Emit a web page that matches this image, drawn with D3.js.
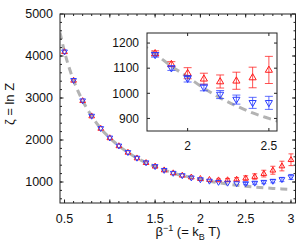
<!DOCTYPE html>
<html><head><meta charset="utf-8">
<script src="https://cdn.jsdelivr.net/npm/d3@7"></script>
<style>
html,body{margin:0;padding:0;background:#fff;}
svg{display:block;font-family:"Liberation Sans",Arial,sans-serif;}
</style></head>
<body>
<svg id="chart" width="302" height="245"></svg>
<script>
// ---- data ----
const temps = [0.5,0.6,0.7,0.8,0.9,1.0,1.1,1.2,1.3,1.4,1.5,1.6,1.7,1.8,1.9,2.0,2.1,2.2,2.3,2.4,2.5,2.6,2.7,2.8,2.9,3.0];
const zetaRed  = [4100,3420,2935,2570,2275,2050,1860,1705,1570,1460,1375,1285,1215,1159,1116,1080,1058,1047,1050,1063,1093,1130,1200,1280,1380,1530];
const errRed   = [5,5,5,5,5,5,5,5,5,5,5,6,7,10,10,22,22,26,34,41,54,65,80,95,115,140];
const zetaBlue = [4100,3420,2935,2570,2275,2050,1860,1705,1570,1460,1370,1280,1210,1153,1100,1058,1023,995,975,962,962,975,995,1020,1060,1120];
const errBlue  = [5,5,5,5,5,5,5,5,5,5,5,6,7,9,9,13,13,16,18,22,26,30,35,40,50,60];
const fitT     = [0.45,0.5,0.6,0.7,0.8,0.9,1.0,1.1,1.2,1.3,1.4,1.5,1.6,1.7,1.75,1.8,1.9,2.0,2.1,2.2,2.3,2.4,2.5,2.6,2.7,2.8,2.9,3.0];
const fitZeta  = [4560,4100,3420,2935,2570,2275,2050,1860,1705,1570,1460,1365,1285,1215,1180,1157,1108,1065,1020,982,950,922,900,880,862,848,835,825];
const mainXTicks = [0.5,1,1.5,2,2.5,3];
const mainXTickLabels = ["0.5","1","1.5","2","2.5","3"];
const mainYTicks = [1000,2000,3000,4000,5000];
const mainYTickLabels = ["1000","2000","3000","4000","5000"];
const insetXTicks = [2,2.5];
const insetXTickLabels = ["2","2.5"];
const insetYTicks = [900,1000,1100,1200];
const insetYTickLabels = ["900","1000","1100","1200"];

const svg = d3.select("#chart");
const RED = "#ff1a1a", BLUE = "#2a3cff", AX = "#222";

function drawPanel(g, x, y, opt){
  const [x0,x1] = x.range(), [y0,y1] = y.range(); // y0 bottom
  const clipId = opt.id + "clip";
  g.append("clipPath").attr("id", clipId).append("rect")
    .attr("x", x0).attr("y", y1).attr("width", x1-x0).attr("height", y0-y1);
  const pg = g.append("g").attr("clip-path", `url(#${clipId})`);
  const line = d3.line().x((d,i)=>x(fitT[i])).y(d=>y(d)).curve(d3.curveMonotoneX);
  pg.append("path").attr("d", line(fitZeta)).attr("fill","none")
    .attr("stroke","#b3b3b3").attr("stroke-width",3).attr("stroke-dasharray", opt.dash);
  const idx = temps.map((t,i)=>i).filter(i=>temps[i]>=opt.tmin-1e-9 && temps[i]<=opt.tmax+1e-9);
  const series = [
    {vals: zetaRed, err: errRed, color: RED, rot: 0},
    {vals: zetaBlue, err: errBlue, color: BLUE, rot: 180}
  ];
  series.forEach(s=>{
    const sg = pg.append("g");
    idx.forEach(i=>{
      const cx = x(temps[i]);
      const yt = y(s.vals[i]+s.err[i]), yb = y(s.vals[i]-s.err[i]);
      if (yb - yt > 2) {
        sg.append("line").attr("x1",cx).attr("x2",cx).attr("y1",yt).attr("y2",yb)
          .attr("stroke",s.color).attr("stroke-opacity",0.75).attr("stroke-width",1);
        [yt,yb].forEach(yy=>sg.append("line").attr("x1",cx-opt.cap).attr("x2",cx+opt.cap)
          .attr("y1",yy).attr("y2",yy).attr("stroke",s.color).attr("stroke-opacity",0.75).attr("stroke-width",1));
      }
      sg.append("path").attr("d", d3.symbol(d3.symbolTriangle, opt.msize)())
        .attr("transform",`translate(${cx},${y(s.vals[i]) + (s.rot? -opt.msize*0.012 : opt.msize*0.012)}) rotate(${s.rot})`)
        .attr("fill","none").attr("stroke",s.color).attr("stroke-width",1);
    });
  });
  g.append("rect").attr("x",x0).attr("y",y1).attr("width",x1-x0).attr("height",y0-y1)
    .attr("fill","none").attr("stroke",AX).attr("stroke-width",1);
  const tk = g.append("g").attr("stroke",AX).attr("stroke-width",1);
  opt.xMinor.forEach(v=>{const p=x(v); tk.append("line").attr("x1",p).attr("x2",p).attr("y1",y0).attr("y2",y0-opt.minorLen);
    tk.append("line").attr("x1",p).attr("x2",p).attr("y1",y1).attr("y2",y1+opt.minorLen);});
  opt.yMinor.forEach(v=>{const p=y(v); tk.append("line").attr("y1",p).attr("y2",p).attr("x1",x0).attr("x2",x0+opt.minorLen);
    tk.append("line").attr("y1",p).attr("y2",p).attr("x1",x1).attr("x2",x1-opt.minorLen);});
  opt.xTicks.forEach(v=>{const p=x(v); tk.append("line").attr("x1",p).attr("x2",p).attr("y1",y0).attr("y2",y0-opt.majorLen);
    tk.append("line").attr("x1",p).attr("x2",p).attr("y1",y1).attr("y2",y1+opt.majorLen);});
  opt.yTicks.forEach(v=>{const p=y(v); tk.append("line").attr("y1",p).attr("y2",p).attr("x1",x0).attr("x2",x0+opt.majorLen);
    tk.append("line").attr("y1",p).attr("y2",p).attr("x1",x1).attr("x2",x1-opt.majorLen);});
  opt.xTicks.forEach((v,i)=>g.append("text").attr("x",x(v)).attr("y",y0+opt.xLabOff)
    .attr("text-anchor","middle").attr("font-size",opt.fs).attr("fill","#111").text(opt.xLabels[i]));
  opt.yTicks.forEach((v,i)=>g.append("text").attr("x",x0-opt.yLabOff).attr("y",y(v)+opt.fs*0.35)
    .attr("text-anchor","end").attr("font-size",opt.fs).attr("fill","#111").text(opt.yLabels[i]));
}

// main panel
const x = d3.scaleLinear().domain([0.45,3.05]).range([60,295.5]);
const y = d3.scaleLinear().domain([500,5000]).range([203,14]);
const gm = svg.append("g");
drawPanel(gm, x, y, {
  id:"main", tmin:0.5, tmax:3.0, msize:14, cap:2.5, dash:"7,5",
  xTicks: mainXTicks, xLabels: mainXTickLabels, yTicks: mainYTicks, yLabels: mainYTickLabels,
  xMinor: d3.range(0.5,3.05,0.1), yMinor: d3.range(600,5000,200),
  majorLen:3.5, minorLen:2, fs:12.5, xLabOff:19.5, yLabOff:7
});

// inset panel
const xi = d3.scaleLinear().domain([1.75,2.55]).range([147,277]);
const yi = d3.scaleLinear().domain([850,1240]).range([131,33]);
svg.append("rect").attr("x",147).attr("y",33).attr("width",130).attr("height",98).attr("fill","#fff");
const gi = svg.append("g");
drawPanel(gi, xi, yi, {
  id:"inset", tmin:1.8, tmax:2.5, msize:22, cap:4, dash:"8,5",
  xTicks: insetXTicks, xLabels: insetXTickLabels, yTicks: insetYTicks, yLabels: insetYTickLabels,
  xMinor: [], yMinor: [],
  majorLen:3, minorLen:2, fs:12, xLabOff:19, yLabOff:8
});

// axis titles
const yl = svg.append("text").attr("transform","translate(14,104) rotate(-90)")
  .attr("text-anchor","middle").attr("font-size",13).attr("fill","#111");
yl.append("tspan").text("ζ = ln Z");

const xl = svg.append("text").attr("x",188).attr("y",236).attr("text-anchor","middle")
  .attr("font-size",13).attr("fill","#111");
xl.append("tspan").text("β");
xl.append("tspan").attr("dy",-5).attr("font-size",9).text("−1");
xl.append("tspan").attr("dy",5).text(" (= k");
xl.append("tspan").attr("dy",3.5).attr("font-size",9).text("B");
xl.append("tspan").attr("dy",-3.5).text(" T)");
</script>
</body></html>
